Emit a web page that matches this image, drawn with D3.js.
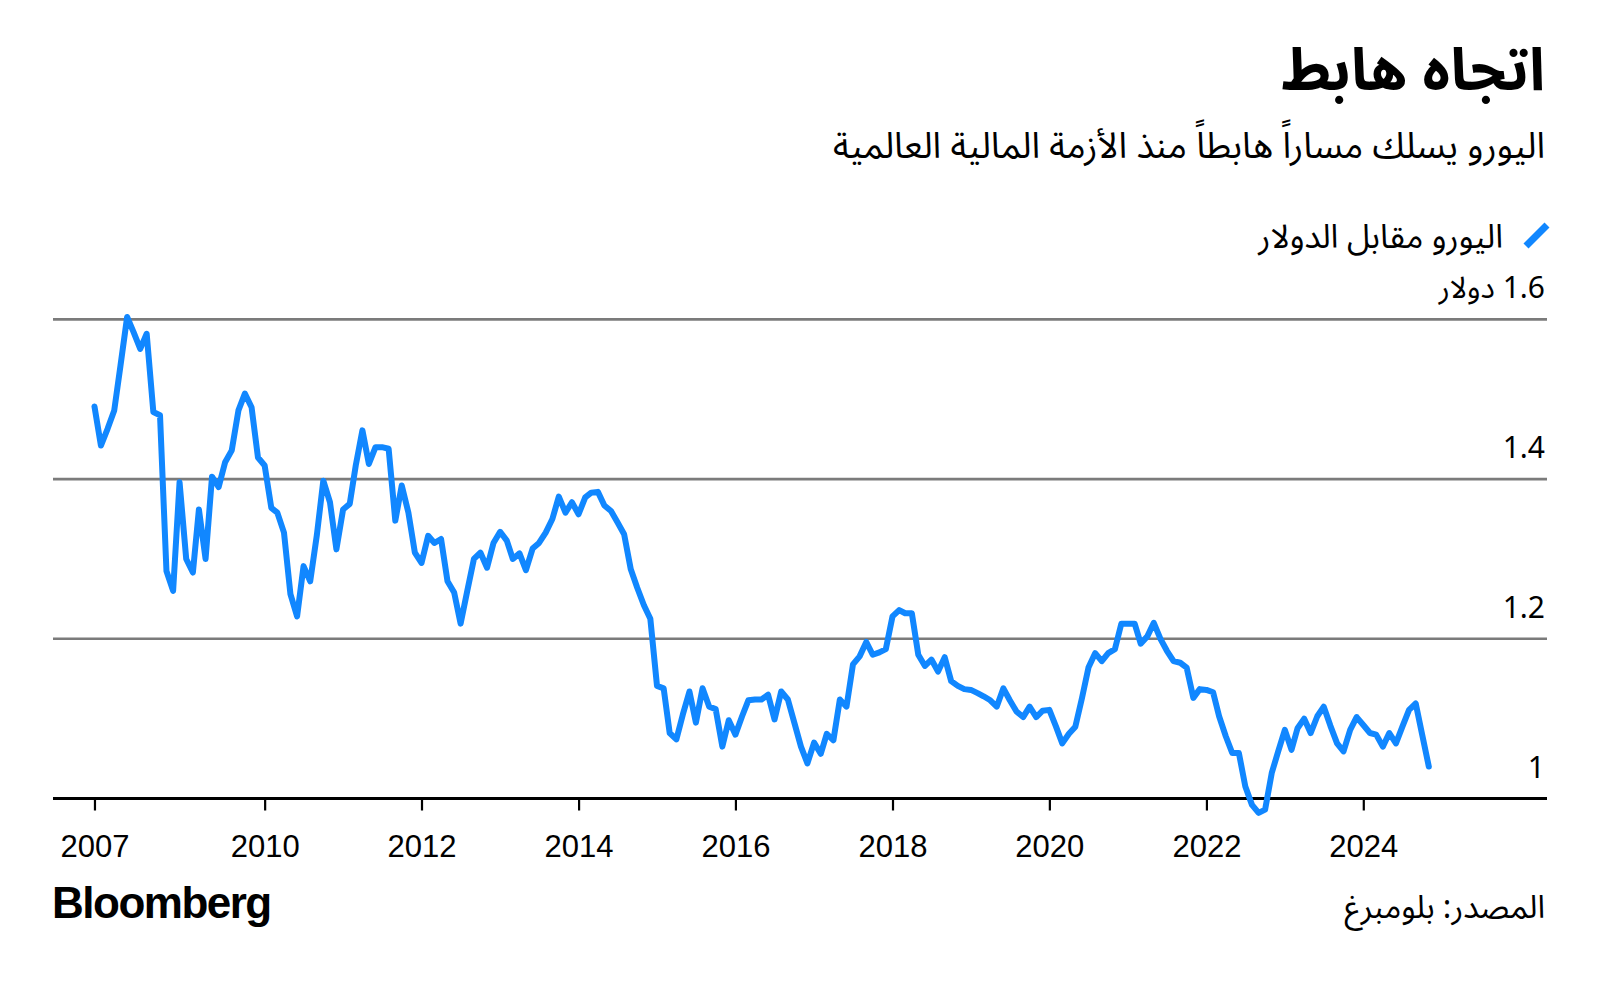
<!DOCTYPE html>
<html lang="ar">
<head>
<meta charset="utf-8">
<script src="https://cdn.jsdelivr.net/npm/d3@7"></script>
<style>
  html, body { margin: 0; padding: 0; background: #fff; }
  svg { display: block; }
  .ar { font-family: "Noto Sans Arabic", "DejaVu Sans", sans-serif; direction: rtl; }
  .num { font-family: "Liberation Sans", Arial, sans-serif; }
</style>
</head>
<body>
<svg id="chart" width="1600" height="983"></svg>
<script>
// ---- data (monthly, first value = Nov 2007) ----
const startMonth = "2007-11";
const eurUsd = [
  1.491, 1.442,
  1.463, 1.486, 1.542, 1.603, 1.584, 1.563, 1.582, 1.484, 1.480, 1.285, 1.260, 1.396,
  1.300, 1.283, 1.362, 1.300, 1.403, 1.390, 1.421, 1.436, 1.486, 1.507, 1.490, 1.427,
  1.417, 1.364, 1.358, 1.333, 1.256, 1.228, 1.291, 1.272, 1.330, 1.398, 1.371, 1.312,
  1.362, 1.369, 1.417, 1.461, 1.419, 1.440, 1.440, 1.438, 1.348, 1.392, 1.358, 1.308,
  1.295, 1.329, 1.320, 1.325, 1.272, 1.258, 1.219, 1.260, 1.300, 1.308, 1.289, 1.320,
  1.334, 1.323, 1.300, 1.307, 1.286, 1.313, 1.320, 1.333, 1.350, 1.378, 1.358, 1.371,
  1.356, 1.377, 1.383, 1.384, 1.367, 1.360, 1.346, 1.331, 1.287, 1.264, 1.242, 1.225,
  1.141, 1.138, 1.082, 1.074, 1.105, 1.134, 1.095, 1.138, 1.115, 1.112, 1.065, 1.098,
  1.080, 1.103, 1.123, 1.124, 1.124, 1.130, 1.099, 1.134, 1.124, 1.095, 1.065, 1.044,
  1.070, 1.056, 1.081, 1.073, 1.124, 1.115, 1.168, 1.178, 1.196, 1.180, 1.183, 1.187,
  1.228, 1.236, 1.232, 1.232, 1.180, 1.166, 1.174, 1.159, 1.177, 1.147, 1.141, 1.137,
  1.136, 1.132, 1.128, 1.123, 1.115, 1.138, 1.123, 1.109, 1.102, 1.115, 1.102, 1.110,
  1.111, 1.090, 1.069, 1.081, 1.090, 1.126, 1.164, 1.182, 1.172, 1.182, 1.187, 1.219,
  1.219, 1.219, 1.194, 1.203, 1.220, 1.200, 1.185, 1.172, 1.170, 1.164, 1.126, 1.137,
  1.136, 1.133, 1.103, 1.078, 1.057, 1.057, 1.015, 0.992, 0.982, 0.986, 1.032, 1.059,
  1.086, 1.061, 1.088, 1.100, 1.082, 1.103, 1.115, 1.091, 1.069, 1.059, 1.086, 1.102,
  1.092, 1.082, 1.080, 1.065, 1.082, 1.069, 1.090, 1.111, 1.119, 1.080, 1.040
];
const xTickDates  = ["2007-11", "2010-01", "2012-01", "2014-01", "2016-01", "2018-01", "2020-01", "2022-01", "2024-01"];
const xTickLabels = ["2007", "2010", "2012", "2014", "2016", "2018", "2020", "2022", "2024"];
const yTicks      = [1.0, 1.2, 1.4, 1.6];
const yTickLabels = ["1", "1.2", "1.4", "1.6 دولار"];

const titleText    = "اتجاه هابط";
const subtitleText = "اليورو يسلك مساراً هابطاً منذ الأزمة المالية العالمية";
const legendText   = "اليورو مقابل الدولار";
const sourceText   = "المصدر: بلومبرغ";

// ---- layout ----
const parseMonth = d3.timeParse("%Y-%m");
const start = parseMonth(startMonth);
const series = eurUsd.map((v, i) => ({ date: d3.timeMonth.offset(start, i), value: v }));

const svg = d3.select("#chart");
const left = 53, right = 1547;
const x = d3.scaleTime()
  .domain([new Date(2007, 3, 22), new Date(2026, 4, 5)])
  .range([left, right]);
const y = d3.scaleLinear().domain([1.0, 1.6]).range([798.5, 319.4]);

const blue = "#1187ff";

// gridlines
svg.append("g").selectAll("line")
  .data(yTicks.filter(d => d > 1))
  .join("line")
  .attr("x1", left).attr("x2", right)
  .attr("y1", d => y(d)).attr("y2", d => y(d))
  .attr("stroke", "#7b7b7b").attr("stroke-width", 2.6);

// y labels
svg.append("g").selectAll("text")
  .data(yTicks)
  .join("text")
  .attr("class", "ar")
  .attr("x", 1545)
  .attr("y", d => y(d) - 21)
  .attr("text-anchor", "start")
  .attr("font-size", 30)
  .attr("fill", "#000")
  .text((d, i) => yTickLabels[i]);

// x axis
const xAxis = d3.axisBottom(x)
  .tickValues(xTickDates.map(parseMonth))
  .tickFormat((d, i) => xTickLabels[i])
  .tickSize(12)
  .tickPadding(24);
const gx = svg.append("g").attr("transform", `translate(0,${y(1.0)})`).call(xAxis);
gx.select(".domain").remove();
gx.append("line").attr("x1", left).attr("x2", right).attr("y1", 0).attr("y2", 0)
  .attr("stroke", "#000").attr("stroke-width", 3);
gx.selectAll(".tick line").attr("stroke", "#000").attr("stroke-width", 2.2);
gx.selectAll(".tick text")
  .attr("class", "num")
  .attr("font-size", 31)
  .attr("fill", "#000");

// line
const line = d3.line().x(d => x(d.date)).y(d => y(d.value)).curve(d3.curveLinear);
svg.append("path")
  .datum(series)
  .attr("d", line)
  .attr("fill", "none")
  .attr("stroke", blue)
  .attr("stroke-width", 6)
  .attr("stroke-linejoin", "round")
  .attr("stroke-linecap", "round");

// title / subtitle
svg.append("text").attr("class", "ar")
  .attr("x", 1545).attr("y", 90)
  .attr("text-anchor", "start")
  .attr("font-size", 59).attr("font-weight", 700)
  .attr("fill", "#000")
  .text(titleText);
svg.append("text").attr("class", "ar")
  .attr("x", 1545).attr("y", 158)
  .attr("text-anchor", "start")
  .attr("font-size", 36)
  .attr("fill", "#000")
  .text(subtitleText);

// legend
svg.append("line")
  .attr("x1", 1526).attr("y1", 246).attr("x2", 1547).attr("y2", 225)
  .attr("stroke", blue).attr("stroke-width", 7);
svg.append("text").attr("class", "ar")
  .attr("x", 1503).attr("y", 248)
  .attr("text-anchor", "start")
  .attr("font-size", 33)
  .attr("fill", "#000")
  .text(legendText);

// footer
svg.append("text")
  .attr("x", 52).attr("y", 918)
  .attr("font-family", "'Liberation Sans', Arial, sans-serif")
  .attr("font-weight", 700)
  .attr("font-size", 44)
  .attr("letter-spacing", -1.5)
  .attr("fill", "#000")
  .text("Bloomberg");
svg.append("text").attr("class", "ar")
  .attr("x", 1545).attr("y", 918)
  .attr("text-anchor", "start")
  .attr("font-size", 32)
  .attr("fill", "#000")
  .text(sourceText);
</script>
</body>
</html>
